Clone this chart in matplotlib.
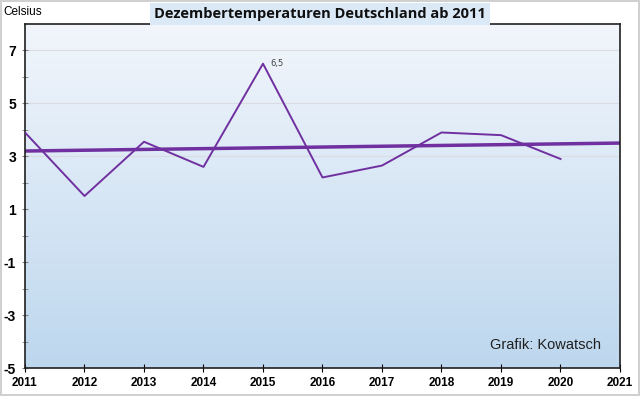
import matplotlib
matplotlib.use("Agg")
import matplotlib.pyplot as plt
import numpy as np
from matplotlib.colors import LinearSegmentedColormap

years = [2011, 2012, 2013, 2014, 2015, 2016, 2017, 2018, 2019, 2020]
temps = [3.9, 1.5, 3.55, 2.6, 6.5, 2.2, 2.65, 3.9, 3.8, 2.9]
trend_x = [2011, 2021]
trend_y = [3.2, 3.5]
xticks = list(range(2011, 2022))
yticks = [-5, -3, -1, 1, 3, 5, 7]

fig = plt.figure(figsize=(6.4, 3.96), dpi=100, edgecolor="#d0d0d0", linewidth=1.5)
ax = fig.add_axes([25/640, 1-368/396, 595/640, 344/396])
ax.set_xlim(2011, 2021)
ax.set_ylim(-5, 8)

cmap = LinearSegmentedColormap.from_list("bg", ["#bdd7ee", "#f2f6fc"])
grad = np.linspace(0, 1, 256).reshape(-1, 1)
ax.imshow(grad, cmap=cmap, origin="lower", aspect="auto",
          extent=[2011, 2021, -5, 8], zorder=0)

for v in [3, 5, 7]:
    ax.axhline(v, color="#d9dde3", lw=0.8, zorder=1)

ax.plot(trend_x, trend_y, color="#7030a0", lw=2.5, zorder=2, solid_capstyle="butt")
ax.plot(years, temps, color="#7030a0", lw=1.4, zorder=3)
ax.annotate("6,5", (2015, 6.5), xytext=(5, 0), textcoords="offset points",
            fontsize=6, color="#404040", va="center")

ax.set_xticks(xticks)
ax.set_xticklabels([str(x) for x in xticks], fontweight="bold", fontsize=8.5,
                   family="Liberation Sans")
ax.set_yticks(yticks)
ax.set_yticklabels([str(y) for y in yticks], fontweight="bold", fontsize=10,
                   family="Liberation Sans")
ax.set_yticks(list(range(-5, 8)), minor=True)
ax.tick_params(axis="y", which="both", direction="inout", length=5, color="#808080")
ax.tick_params(axis="x", direction="inout", length=6, color="black")
ax.tick_params(axis="y", pad=4)
for s in ax.spines.values():
    s.set_linewidth(1.2)
    s.set_color("#202020")

ax.text(0.968, 0.067, "Grafik: Kowatsch", transform=ax.transAxes, ha="right",
        va="center", fontsize=10.5, family="Liberation Sans", color="#202020")

fig.text(3/640, 1-12/396, "Celsius", fontsize=8.5, family="Liberation Sans",
         va="center", ha="left")
fig.text(320/640, 1-14/396, "Dezembertemperaturen Deutschland ab 2011",
         fontsize=10.5, fontweight="bold", family="Open Sans", ha="center",
         va="center", color="#101010",
         bbox=dict(boxstyle="square,pad=0.3", fc="#dbe8f5", ec="none"))

fig.savefig("out.png", dpi=100, edgecolor=fig.get_edgecolor())
